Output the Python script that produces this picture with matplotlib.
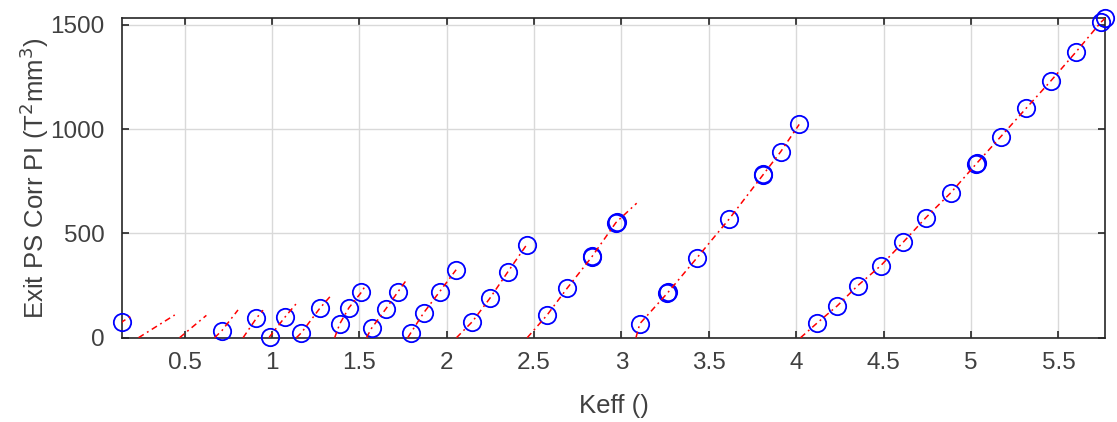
import numpy as np
import matplotlib
matplotlib.use("Agg")
import matplotlib.pyplot as plt

# measured points (blue circles)
keff_pts = [0.144, 0.714, 0.911, 0.987, 1.077, 1.169, 1.274, 1.388, 1.441, 1.512,
            1.570, 1.650, 1.722, 1.793, 1.869, 1.960, 2.054, 2.147, 2.247, 2.351,
            2.457, 2.575, 2.689, 2.829, 2.833, 2.968, 2.972, 3.105, 3.263, 3.267,
            3.430, 3.615, 3.808, 3.812, 3.911, 4.017, 4.119, 4.235, 4.351, 4.483,
            4.612, 4.742, 4.884, 5.029, 5.033, 5.170, 5.315, 5.456, 5.599, 5.742,
            5.767]
pi_pts = [77, 34, 93, 5, 101, 24, 141, 66, 144, 218,
          45, 136, 221, 21, 120, 221, 326, 77, 189, 317,
          445, 109, 237, 386, 391, 552, 557, 67, 214, 219,
          381, 568, 779, 784, 892, 1023, 70, 153, 249, 345,
          458, 576, 695, 833, 838, 964, 1100, 1231, 1369, 1512,
          1532]

# red dash-dot branches
branch_keff = [
    [0.097, 0.144, 0.205],
    [0.237, 0.444],
    [0.472, 0.625],
    [0.672, 0.714, 0.806],
    [0.835, 0.911, 0.949],
    [0.985, 0.987, 1.077, 1.149],
    [1.140, 1.169, 1.274, 1.341],
    [1.359, 1.388, 1.441, 1.512, 1.535],
    [1.541, 1.570, 1.650, 1.722, 1.770],
    [1.777, 1.793, 1.869, 1.960, 2.054],
    [2.056, 2.147, 2.247, 2.351, 2.457],
    [2.461, 2.575, 2.689, 2.829, 2.968, 3.087],
    [3.083, 3.105, 3.263, 3.430, 3.615, 3.808, 3.911, 4.017],
    [4.025, 4.119, 4.235, 4.351, 4.483, 4.612, 4.742, 4.884, 5.029, 5.170,
     5.315, 5.456, 5.599, 5.742, 5.767],
]
branch_pi = [
    [0, 77, 109],
    [0, 109],
    [0, 107],
    [0, 34, 133],
    [0, 93, 132],
    [0, 5, 101, 173],
    [0, 24, 141, 205],
    [0, 66, 144, 218, 250],
    [0, 45, 136, 221, 277],
    [0, 21, 120, 221, 326],
    [0, 77, 189, 317, 445],
    [0, 109, 237, 386, 552, 645],
    [0, 67, 214, 381, 568, 779, 892, 1023],
    [0, 70, 153, 249, 345, 458, 576, 695, 833, 964,
     1100, 1231, 1369, 1512, 1532],
]

plt.rcParams["font.family"] = ["Liberation Sans", "DejaVu Sans"]

fig = plt.figure(figsize=(11.17, 4.22), dpi=100)
ax = fig.add_axes([0.1095, 0.1998, 0.8798, 0.7568])

ax.plot(keff_pts, pi_pts, linestyle="none", marker="o", markersize=12.5,
        markerfacecolor="none", markeredgecolor="#0000ff", markeredgewidth=1.3,
        clip_on=False, zorder=3)

for bx, by in zip(branch_keff, branch_pi):
    ax.plot(bx, by, color="#ff0000", linewidth=1.1,
            linestyle=(0, (4, 2.5, 1.2, 2.5)), zorder=4)

ax.set_xlim(min(keff_pts), max(keff_pts))
ax.set_ylim(0, max(pi_pts))
ax.set_xticks(np.arange(0.5, 5.51, 0.5))
ax.set_xticklabels(["0.5", "1", "1.5", "2", "2.5", "3", "3.5", "4", "4.5", "5", "5.5"])
ax.set_yticks([0, 500, 1000, 1500])

ax.grid(True, color="#d9d9d9", linewidth=1.0)
ax.set_axisbelow(True)
for s in ax.spines.values():
    s.set_color("#262626")
    s.set_linewidth(1.2)
ax.tick_params(direction="in", length=5, width=1.2, color="#262626",
               top=True, right=True, labelsize=17.5, labelcolor="#404040")
ax.tick_params(axis="x", pad=10)
ax.tick_params(axis="y", pad=13)

ax.set_xlabel("Keff ()", fontsize=18.5, color="#404040", labelpad=15)
ax.set_ylabel("Exit PS Corr PI (T$^2$mm$^3$)", fontsize=18.5, color="#404040", labelpad=-1)

fig.savefig("out.png", dpi=100)
